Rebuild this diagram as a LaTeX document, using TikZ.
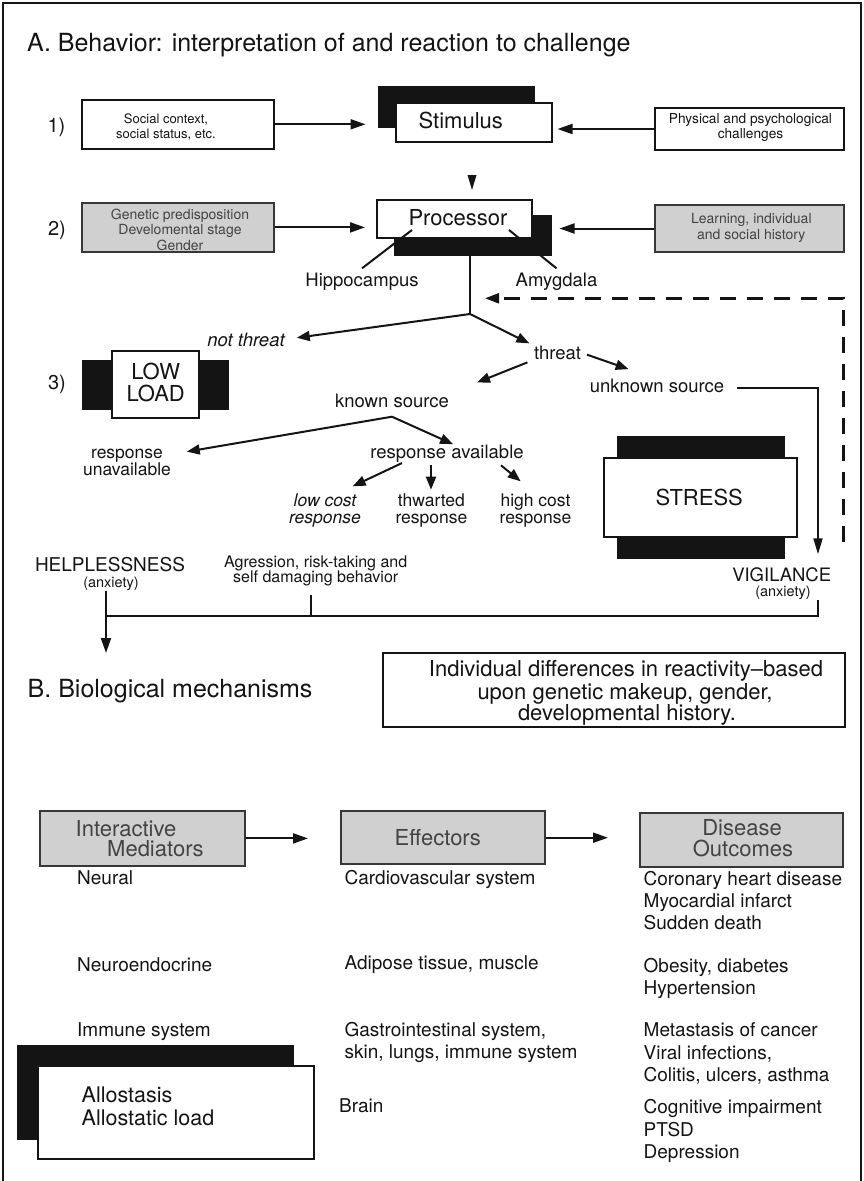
\documentclass[tikz,border=0pt]{standalone}
\usepackage{fontspec}
\setmainfont{TeX Gyre Heros}
\usetikzlibrary{arrows.meta}
\definecolor{boxgray}{RGB}{208,208,208}
\definecolor{ink}{RGB}{20,20,20}
\newcommand\fsz[1]{\fontsize{#1}{#1}\selectfont}
\begin{document}
\begin{tikzpicture}[x=1pt,y=-1pt,
  every node/.style={inner sep=0pt, text=ink},
  sz/.style 2 args={minimum width=#1pt, minimum height=#2pt},
  whitebox/.style={draw=ink, line width=2pt, fill=white},
  graybox/.style={draw=ink!85, line width=2pt, fill=boxgray},
  blackbox/.style={draw=ink, line width=1pt, fill=ink},
  txc/.style={anchor=base},
  txl/.style={anchor=base west},
  ln/.style={draw=ink, line width=2pt},
  arr/.style={ln, -{Triangle[length=15pt,width=10pt]}},
  arrb/.style={ln, -{Triangle[length=13pt,width=10pt]}},
  arrc/.style={ln, -{Triangle[length=16pt,width=9pt]}},
  gtext/.style={text=ink!80}
]
\useasboundingbox (0,0) rectangle (864,1181);
% frame
\draw[ln] (3,1181) -- (3,3) -- (861,3) -- (861,1181);

% ---------- A ----------
\node[txl, font=\fsz{25}] (titleA) at (27,51.7) {A. Behavior: interpretation of and reaction to challenge};
\node[txc, font=\fsz{20}] (n1) at (56.5,132) {1)};
\node[txc, font=\fsz{20}] (n2) at (57,235) {2)};
\node[txc, font=\fsz{20}] (n3) at (57,389.5) {3)};

% row 1
\node[whitebox, sz={192}{48.5}] (social) at (177.6,124.3) {};
\node[txc, font=\fsz{13}] (social1) at (166,123.3) {Social context,};
\node[txc, font=\fsz{13}] (social2) at (166,138.5) {social status, etc.};

\node[whitebox, sz={188.5}{42}] (phys) at (749.3,129) {};
\node[txc, font=\fsz{13.7}] (phys1) at (750.5,123.3) {Physical and psychological};
\node[txc, font=\fsz{13.7}] (phys2) at (750.5,138.3) {challenges};

\node[blackbox, sz={156}{41}] (stimB) at (456,106.5) {};
\node[whitebox, sz={156}{39}] (stim) at (474,122.5) {};
\node[txc, font=\fsz{22}] (stimT) at (460.8,128.3) {Stimulus};

\draw[arr, shorten >=12pt] (social.east) -- (social.east -| stimB.west);
\draw[arr, shorten >=4.5pt] (phys.west) -- (phys.west -| stim.east);

\fill[ink] (467.5,175) -- (476.5,175) -- (472,190) -- cycle;

% row 2
\node[graybox, sz={192.3}{48.7}] (gen) at (177.9,227.4) {};
\node[txc, gtext, font=\fsz{14}] (gen1) at (180,219) {Genetic predisposition};
\node[txc, gtext, font=\fsz{14}] (gen2) at (180,234.3) {Develomental stage};
\node[txc, gtext, font=\fsz{14}] (gen3) at (180,250) {Gender};

\node[graybox, sz={189}{47}] (learn) at (749.5,228.5) {};
\node[txc, gtext, font=\fsz{14}] (learn1) at (751.3,223.3) {Learning, individual};
\node[txc, gtext, font=\fsz{14}] (learn2) at (751.3,239) {and social history};

\node[blackbox, sz={157}{40}] (procB) at (472.5,235) {};
\node[whitebox, sz={155}{38}] (proc) at (454.5,219) {};
\node[txc, font=\fsz{22}] (procT) at (458,225.7) {Processor};

\draw[arr, shorten >=11pt] (gen.east) -- (gen.east -| proc.west);
\draw[arr, shorten >=8pt] (learn.west) -- (learn.west -| procB.east);

\node[txc, font=\fsz{18.5}] (hippo) at (362,286) {Hippocampus};
\node[txc, font=\fsz{18.5}] (amyg) at (556.5,286) {Amygdala};
\coordinate (hipA) at (412,230);
\coordinate (amyA) at (509,230);
\draw[ln] (hipA) -- ([yshift=4pt]hippo.north);
\draw[ln] (amyA) -- ([yshift=4pt]amyg.north);

% branching
\coordinate (br) at (470,314);
\draw[ln] (procB.south -| br) -- (br);

\node[txc, font=\itshape\fsz{18.5}] (nthr) at (246,346) {not threat};
\draw[arrb, shorten >=12pt] (br) -- (nthr.east);

\node[txc, font=\fsz{18.5}] (thr) at (557.6,359.3) {threat};
\draw[arrb, shorten >=5pt] (br) -- (thr.north west);

\node[txc, font=\fsz{18.5}] (unk) at (657,392.7) {unknown source};
\draw[arrb, shorten <=6pt, shorten >=30pt] (thr.east) -- (unk.north);

\node[txc, font=\fsz{18.5}] (kno) at (392,407.3) {known source};
\draw[arrb, shorten <=7pt, shorten >=30pt] (thr.south west) -- (kno.north east);

\coordinate (kb) at (392,416.7);
\node[txc, font=\fsz{17.5}] (ru1) at (127,458.5) {response};
\node[txc, font=\fsz{17.5}] (ru2) at (127,475.5) {unavailable};
\draw[arrb, shorten >=24pt] (kb) -- (ru1.east);

\node[txc, font=\fsz{18.5}] (ra) at (447,458.3) {response available};
\draw[arrb, shorten >=1pt] (kb) -- ([xshift=7pt]ra.north);

\node[txc, font=\itshape\fsz{17.5}] (lc1) at (325,506) {low cost};
\node[txc, font=\itshape\fsz{17.5}] (lc2) at (325,523) {response};
\node[txc, font=\fsz{17.5}] (tw1) at (431.4,506) {thwarted};
\node[txc, font=\fsz{17.5}] (tw2) at (431.4,523) {response};
\node[txc, font=\fsz{17.5}] (hc1) at (535.5,506) {high cost};
\node[txc, font=\fsz{17.5}] (hc2) at (535.5,523) {response};

\draw[arrb] ([xshift=-45pt,yshift=-0.5pt]ra.south) -- ([xshift=27.6pt,yshift=6.7pt]lc1.north);
\draw[arrb] ([xshift=-16pt,yshift=-2.8pt]ra.south) -- ([xshift=-0.4pt,yshift=3.4pt]tw1.north);
\draw[arrb] ([xshift=54pt,yshift=-2.8pt]ra.south) -- ([xshift=-14.8pt,yshift=11.7pt]hc1.north);

% LOW LOAD
\node[blackbox, sz={146}{49}] (lowB) at (155.6,384.5) {};
\node[whitebox, sz={87.4}{67.3}] (low) at (155.7,384.4) {};
\node[txc, font=\fsz{22}] (low1) at (155.7,379) {LOW};
\node[txc, font=\fsz{22}] (low2) at (155.7,401.7) {LOAD};

% STRESS
\node[blackbox, sz={166.3}{122.3}] (strB) at (700.9,497.2) {};
\node[whitebox, sz={193.3}{78.4}] (str) at (700.7,497.5) {};
\node[txc, font=\fsz{22}] (strT) at (699.2,505) {STRESS};

% vigilance
\node[txc, font=\fsz{18.5}] (vig) at (781.7,581.7) {VIGILANCE};
\node[txc, font=\fsz{14.5}] (vigA) at (783,596.7) {(anxiety)};
\draw[arrc] ([xshift=13pt,yshift=-2pt]unk.east) -| ([xshift=36.3pt,yshift=13.4pt]vig.north);

% dashed feedback
\coordinate (dsh) at (843.3,541.7);
\coordinate (fb) at (470,298.3);
\draw[draw=ink, line width=2.5pt, dash pattern=on 16pt off 11pt, -{Triangle[length=14pt,width=10pt]}, shorten >=15pt] (dsh) |- (fb);

% outcomes row
\node[txc, font=\fsz{19}] (help) at (110,571.7) {HELPLESSNESS};
\node[txc, font=\fsz{14.5}] (helpA) at (111,587.3) {(anxiety)};
\node[txc, font=\fsz{16}] (agg1) at (315.7,567.7) {Agression, risk-taking and};
\node[txc, font=\fsz{16}] (agg2) at (315.7,582.7) {self damaging behavior};

\coordinate (hb) at (106,616);
\coordinate (vb) at (817.7,616);
\coordinate (ab) at (311,616);
\coordinate (bt) at (106,653);
\draw[ln] (hb) -- (vb) -- (vb |- vigA.south);
\draw[ln, shorten >=9pt] (ab) -- (ab |- agg2.south);
\draw[arr] (bt |- helpA.south) -- (bt);

% ---------- B ----------
\node[txl, font=\fsz{25}] (titleB) at (27.5,697.3) {B. Biological mechanisms};

\node[whitebox, sz={461.6}{73.7}] (indiv) at (613.8,689.9) {};
\node[txc, font=\fsz{22}] (ind1) at (626,676) {Individual differences in reactivity–based};
\node[txc, font=\fsz{22}] (ind2) at (625,699) {upon genetic makeup, gender,};
\node[txc, font=\fsz{22}] (ind3) at (627,720.7) {developmental history.};

\node[graybox, sz={205}{54.7}] (med) at (142.5,838.4) {};
\node[txl, gtext, font=\fsz{22}] (med1) at (75.5,836.7) {Interactive};
\node[txl, gtext, font=\fsz{22}] (med2) at (107,856.7) {Mediators};

\node[graybox, sz={204}{53.3}] (eff) at (443,837.7) {};
\node[txc, gtext, font=\fsz{22}] (effT) at (437.8,845) {Effectors};

\node[graybox, sz={203}{54}] (out) at (741.5,839.7) {};
\node[txc, gtext, font=\fsz{22}] (out1) at (742,835) {Disease};
\node[txc, gtext, font=\fsz{22}] (out2) at (743,856.7) {Outcomes};

\draw[arr, shorten >=32pt] (med.east) -- (med.east -| eff.west);
\draw[arr, shorten >=31pt] (eff.east) -- (eff.east -| out.west);

% columns
\node[txl, font=\fsz{19}] (c1a) at (77,884.3) {Neural};
\node[txl, font=\fsz{19}] (c1b) at (77,971) {Neuroendocrine};
\node[txl, font=\fsz{19}] (c1c) at (77,1036) {Immune system};

\node[txl, font=\fsz{19}] (c2a) at (344.4,884.3) {Cardiovascular system};
\node[txl, font=\fsz{19}] (c2b) at (344.4,969.3) {Adipose tissue, muscle};
\node[txl, font=\fsz{19}] (c2c) at (344.4,1036) {Gastrointestinal system,};
\node[txl, font=\fsz{19}] (c2d) at (344.4,1058.3) {skin, lungs, immune system};
\node[txl, font=\fsz{19}] (c2e) at (339,1112.7) {Brain};

\node[txl, font=\fsz{19}] (c3a) at (643.5,885) {Coronary heart disease};
\node[txl, font=\fsz{19}] (c3b) at (643.5,907.3) {Myocardial infarct};
\node[txl, font=\fsz{19}] (c3c) at (643.5,929.3) {Sudden death};
\node[txl, font=\fsz{19}] (c3d) at (643.5,972.7) {Obesity, diabetes};
\node[txl, font=\fsz{19}] (c3e) at (643.5,994) {Hypertension};
\node[txl, font=\fsz{19}] (c3f) at (643.5,1036.7) {Metastasis of cancer};
\node[txl, font=\fsz{19}] (c3g) at (643.5,1059) {Viral infections,};
\node[txl, font=\fsz{19}] (c3h) at (643.5,1081.7) {Colitis, ulcers, asthma};
\node[txl, font=\fsz{19}] (c3i) at (643.5,1113.3) {Cognitive impairment};
\node[txl, font=\fsz{19}] (c3j) at (643.5,1136) {PTSD};
\node[txl, font=\fsz{19}] (c3k) at (643.5,1158.3) {Depression};

% allostasis
\node[blackbox, sz={276.1}{94}] (alloB) at (155.7,1092) {};
\node[whitebox, sz={276.5}{93}] (allo) at (175.8,1112.5) {};
\node[txl, font=\fsz{21.5}] (allo1) at (81.5,1102.7) {Allostasis};
\node[txl, font=\fsz{21.5}] (allo2) at (81.5,1125) {Allostatic load};
\end{tikzpicture}
\end{document}
